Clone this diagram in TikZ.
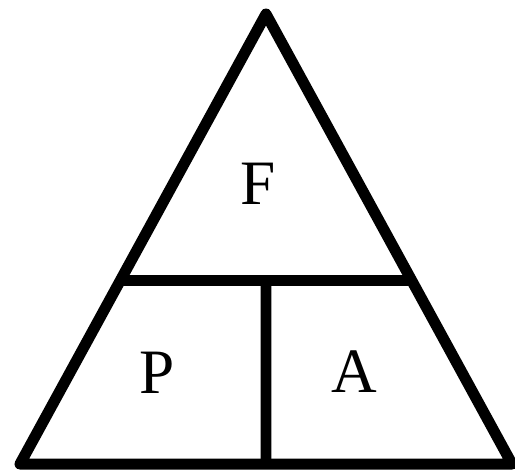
\documentclass[tikz,border=0pt]{standalone}
\usepackage{fontspec}
\newfontfamily\timesfont{Liberation Serif}
\usetikzlibrary{calc}

\begin{document}
\begin{tikzpicture}[x=0.02cm,y=-0.02cm,thickline/.style={line width=0.22cm,line join=round,line cap=round},
  lbl/.style={font=\timesfont\fontsize{36}{40}\selectfont}]
  \useasboundingbox (0,0) rectangle (515,471);
  \coordinate (top) at (266,14); \coordinate (bl) at (20,464); \coordinate (br) at (512,464);
  \coordinate (ml) at ($(top)!0.592!(bl)$); \coordinate (mr) at ($(top)!0.592!(br)$);
  \coordinate (mm) at ($(ml)!0.5!(mr)$); \coordinate (bm) at ($(bl)!0.5!(br)$);
  \draw[thickline] (top) -- (bl) -- (br) -- cycle;
  \draw[thickline,line cap=butt] (ml) -- (mr); \draw[thickline,line cap=butt] (mm) -- (bm);
  \node[lbl] (F) at (258,184) {F}; \node[lbl] (P) at (157,373) {P}; \node[lbl] (A) at (354,372) {A};
\end{tikzpicture}
\end{document}
